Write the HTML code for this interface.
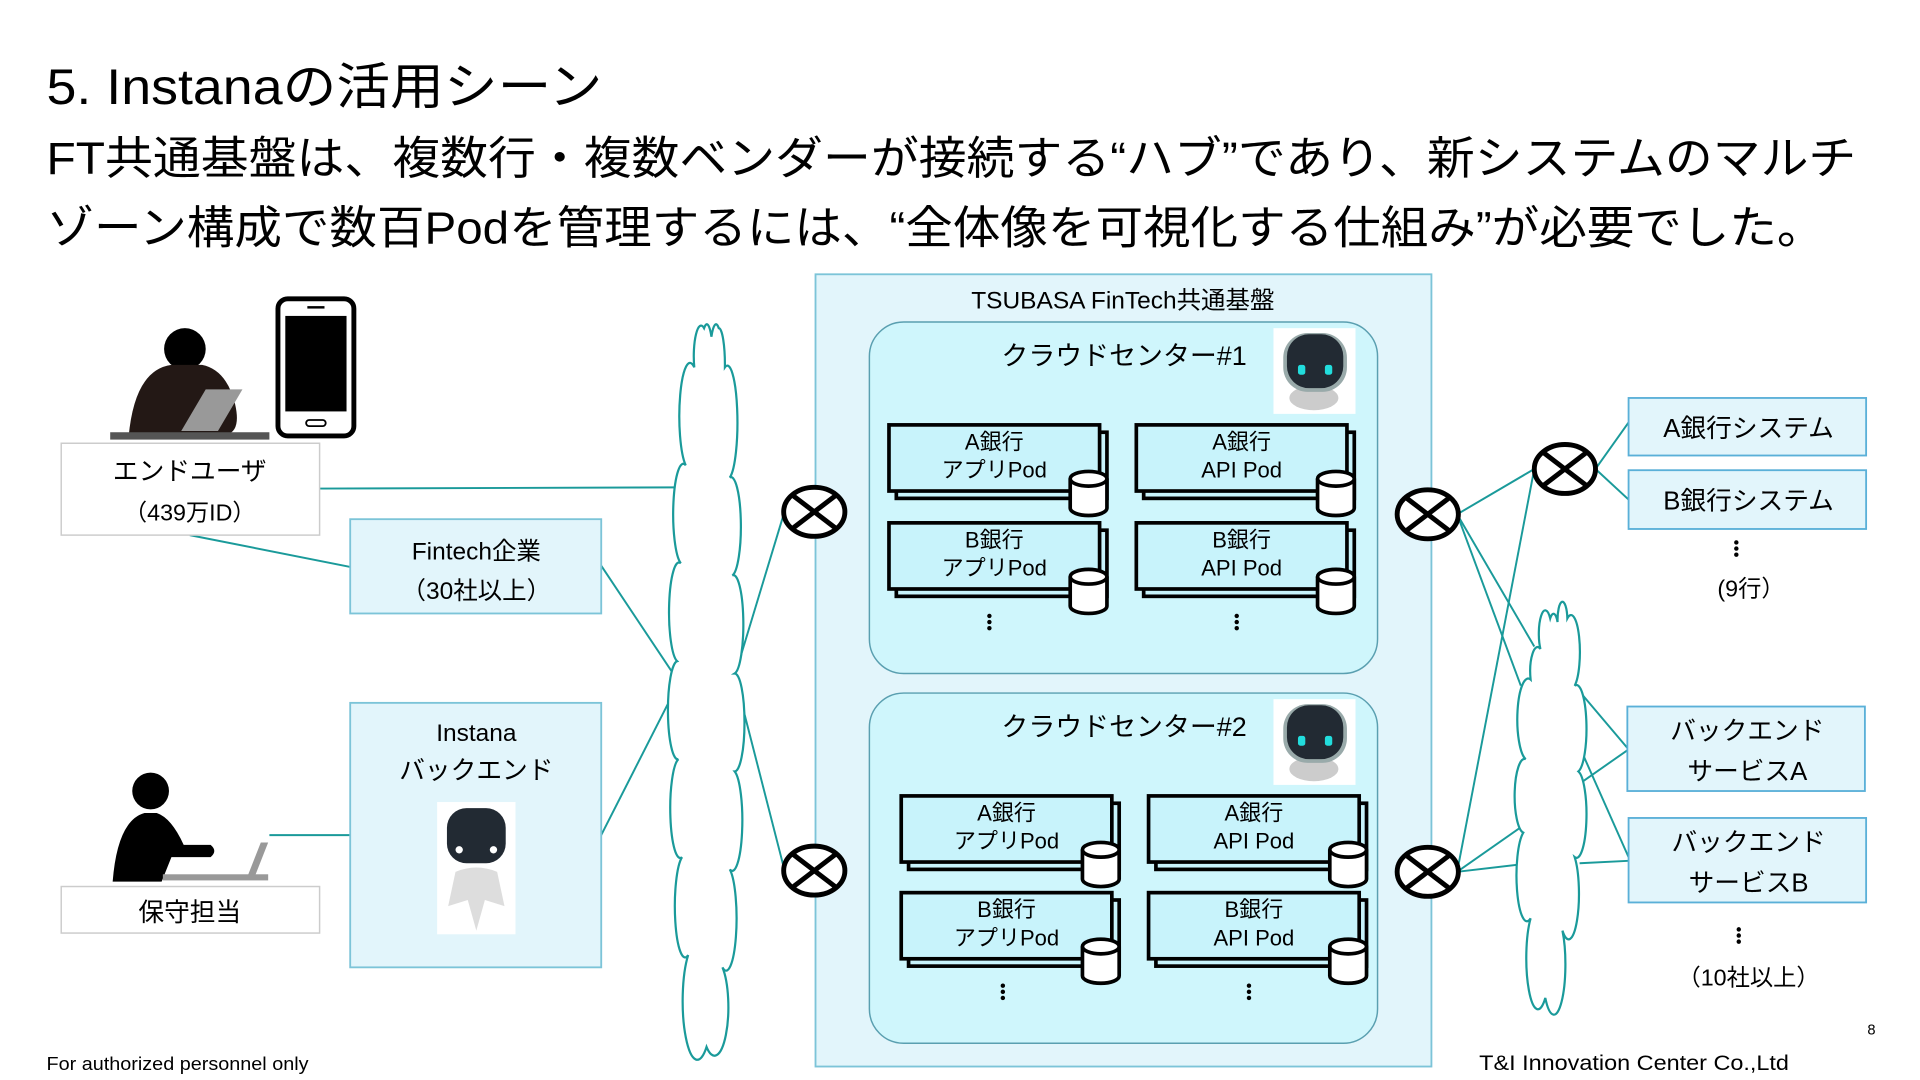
<!DOCTYPE html>
<html><head><meta charset="utf-8"><style>
html,body{margin:0;padding:0;background:#fff;}
svg{display:block;}
text{font-family:"Liberation Sans","Noto Sans CJK JP",sans-serif;fill:#000;}
</style></head><body>
<svg width="1920" height="1080" viewBox="0 0 1568 882" preserveAspectRatio="none" xmlns="http://www.w3.org/2000/svg">
<defs>
<g id="cyl">
<path d="M0 6 V30 A15 6 0 0 0 30 30 V6" fill="#fff" stroke="#000" stroke-width="3"/>
<ellipse cx="15" cy="6" rx="15" ry="6" fill="#fff" stroke="#000" stroke-width="3"/>
</g>
<g id="xc">
<ellipse cx="0" cy="0" rx="25" ry="20" fill="#fff" stroke="#000" stroke-width="4"/>
<line x1="-17" y1="-13" x2="17" y2="13" stroke="#000" stroke-width="4"/>
<line x1="-17" y1="13" x2="17" y2="-13" stroke="#000" stroke-width="4"/>
</g>
<g id="bot">
<rect x="0" y="0" width="67" height="70" fill="#fff"/>
<ellipse cx="33" cy="57" rx="20" ry="10" fill="#ccc"/>
<rect x="8" y="4" width="52" height="48" rx="20" fill="#9aa"/>
<rect x="11" y="5" width="46" height="44" rx="18" fill="#222a33"/>
<rect x="20" y="30" width="6" height="8" rx="2" fill="#2dd"/>
<rect x="42" y="30" width="6" height="8" rx="2" fill="#2dd"/>
</g>
</defs>

<text x="38" y="85" font-size="41" textLength="454" lengthAdjust="spacingAndGlyphs">5. Instanaの活用シーン</text>
<text x="38" y="142" font-size="37" textLength="1478" lengthAdjust="spacingAndGlyphs">FT共通基盤は、複数行・複数ベンダーが接続する“ハブ”であり、新システムのマルチ</text>
<text x="38" y="199" font-size="37" textLength="1452" lengthAdjust="spacingAndGlyphs">ゾーン構成で数百Podを管理するには、“全体像を可視化する仕組み”が必要でした。</text>

<rect x="666" y="224" width="503" height="647" fill="#e2f5fb" stroke="#7cc4d8" stroke-width="1.5"/>
<text x="917" y="252" font-size="20" text-anchor="middle">TSUBASA FinTech共通基盤</text>
<rect x="710" y="263" width="415" height="287" rx="28" fill="#cff6fc" stroke="#5a9fb0" stroke-width="1.2"/>
<rect x="710" y="566" width="415" height="286" rx="28" fill="#cff6fc" stroke="#5a9fb0" stroke-width="1.2"/>
<text x="918" y="298" font-size="22" text-anchor="middle">クラウドセンター#1</text>
<text x="918" y="601" font-size="22" text-anchor="middle">クラウドセンター#2</text>
<use href="#bot" x="1040" y="268"/>
<use href="#bot" x="1040" y="571"/>

<g stroke="#000" stroke-width="3" fill="#c8f3fb">
<rect x="732" y="353" width="172" height="54"/><rect x="726" y="347" width="172" height="54"/>
<rect x="934" y="353" width="172" height="54"/><rect x="928" y="347" width="172" height="54"/>
<rect x="732" y="433" width="172" height="54"/><rect x="726" y="427" width="172" height="54"/>
<rect x="934" y="433" width="172" height="54"/><rect x="928" y="427" width="172" height="54"/>
<rect x="742" y="656" width="172" height="54"/><rect x="736" y="650" width="172" height="54"/>
<rect x="944" y="656" width="172" height="54"/><rect x="938" y="650" width="172" height="54"/>
<rect x="742" y="735" width="172" height="54"/><rect x="736" y="729" width="172" height="54"/>
<rect x="944" y="735" width="172" height="54"/><rect x="938" y="729" width="172" height="54"/>
</g>
<use href="#cyl" x="874" y="385"/><use href="#cyl" x="1076" y="385"/>
<use href="#cyl" x="874" y="465"/><use href="#cyl" x="1076" y="465"/>
<use href="#cyl" x="884" y="688"/><use href="#cyl" x="1086" y="688"/>
<use href="#cyl" x="884" y="767"/><use href="#cyl" x="1086" y="767"/>
<g font-size="18" text-anchor="middle">
<text x="812" y="367">A銀行</text><text x="812" y="390">アプリPod</text>
<text x="1014" y="367">A銀行</text><text x="1014" y="390">API Pod</text>
<text x="812" y="447">B銀行</text><text x="812" y="470">アプリPod</text>
<text x="1014" y="447">B銀行</text><text x="1014" y="470">API Pod</text>
<text x="822" y="670">A銀行</text><text x="822" y="693">アプリPod</text>
<text x="1024" y="670">A銀行</text><text x="1024" y="693">API Pod</text>
<text x="822" y="749">B銀行</text><text x="822" y="772">アプリPod</text>
<text x="1024" y="749">B銀行</text><text x="1024" y="772">API Pod</text>
</g>
<g fill="#000">
<circle cx="808" cy="503" r="1.8"/><circle cx="808" cy="508" r="1.8"/><circle cx="808" cy="513" r="1.8"/>
<circle cx="1010" cy="503" r="1.8"/><circle cx="1010" cy="508" r="1.8"/><circle cx="1010" cy="513" r="1.8"/>
<circle cx="819" cy="805" r="1.8"/><circle cx="819" cy="810" r="1.8"/><circle cx="819" cy="815" r="1.8"/>
<circle cx="1020" cy="805" r="1.8"/><circle cx="1020" cy="810" r="1.8"/><circle cx="1020" cy="815" r="1.8"/>
<circle cx="1418" cy="443" r="1.8"/><circle cx="1418" cy="448" r="1.8"/><circle cx="1418" cy="453" r="1.8"/>
<circle cx="1420" cy="759" r="1.8"/><circle cx="1420" cy="764" r="1.8"/><circle cx="1420" cy="769" r="1.8"/>
</g>

<g stroke="#1a9a9a" stroke-width="1.6" fill="none">
<line x1="261" y1="399" x2="553" y2="398"/>
<line x1="155" y1="437" x2="286" y2="463"/>
<line x1="491" y1="462" x2="553" y2="555"/>
<line x1="491" y1="682" x2="553" y2="560"/>
<line x1="220" y1="682" x2="286" y2="682"/>
<line x1="600" y1="552" x2="640" y2="420"/>
<line x1="600" y1="552" x2="640" y2="708"/>
<line x1="1190" y1="420" x2="1253" y2="383"/>
<line x1="1190" y1="420" x2="1253" y2="528"/>
<line x1="1190" y1="420" x2="1242" y2="560"/>
<line x1="1190" y1="712" x2="1253" y2="383"/>
<line x1="1190" y1="712" x2="1250" y2="670"/>
<line x1="1190" y1="712" x2="1250" y2="705"/>
<line x1="1303" y1="383" x2="1330" y2="345"/>
<line x1="1303" y1="383" x2="1330" y2="408"/>
<line x1="1286" y1="560" x2="1330" y2="612"/>
<line x1="1290" y1="640" x2="1330" y2="612"/>
<line x1="1290" y1="610" x2="1330" y2="700"/>
<line x1="1290" y1="705" x2="1330" y2="703"/>
</g>

<path d="M575 268 A6 25 0 0 0 567 300 A8 40 0 0 0 560 380 A8 40 0 0 0 556 460 A8 40 0 0 0 553 540 A8 40 0 0 0 554 620 A8 40 0 0 0 557 700 A8 40 0 0 0 562 780 A10 40 0 0 0 577 855 A10 35 0 0 0 590 790 A8 40 0 0 0 596 710 A8 40 0 0 0 600 630 A8 40 0 0 0 600 550 A8 40 0 0 0 598 470 A8 40 0 0 0 596 390 A8 45 0 0 0 592 300 A5 30 0 0 0 587 268 A5 30 0 0 0 581 275 A5 30 0 0 0 575 268 Z" fill="#fff" stroke="#1a9a9a" stroke-width="1.8"/>
<path d="M1266 505 A5 18 0 0 0 1258 530 A6 20 0 0 0 1250 555 A8 30 0 0 0 1246 620 A8 30 0 0 0 1244 680 A8 35 0 0 0 1250 750 A8 35 0 0 0 1262 815 A8 35 0 0 0 1276 760 A8 35 0 0 0 1286 700 A8 35 0 0 0 1289 630 A8 35 0 0 0 1286 560 A6 25 0 0 0 1280 505 A4 15 0 0 0 1272 508 A4 15 0 0 0 1266 505 Z" fill="#fff" stroke="#1a9a9a" stroke-width="1.8"/>

<use href="#xc" x="665" y="418"/>
<use href="#xc" x="665" y="711"/>
<use href="#xc" x="1166" y="420"/>
<use href="#xc" x="1166" y="712"/>
<use href="#xc" x="1278" y="383"/>

<circle cx="151" cy="285" r="17" fill="#000"/>
<path d="M105 357 Q110 302 140 298 L165 298 Q185 302 192 330 Q197 352 185 355 L120 357 Z" fill="#231815"/>
<polygon points="168,318 198,318 178,352 148,352" fill="#999"/>
<rect x="90" y="353" width="130" height="6" fill="#555"/>
<rect x="227" y="244" width="62" height="112" rx="8" fill="#fff" stroke="#000" stroke-width="4"/>
<rect x="233" y="258" width="50" height="78" fill="#000"/>
<rect x="251" y="250" width="14" height="2" fill="#000"/>
<rect x="250" y="343" width="16" height="5" rx="2.5" fill="none" stroke="#000" stroke-width="1.5"/>

<circle cx="123" cy="646" r="15" fill="#000"/>
<path d="M92 720 Q96 670 118 664 L128 664 Q140 668 150 690 L172 690 Q178 695 172 700 L140 700 L132 720 Z" fill="#000"/>
<polygon points="213,688 219,688 208,716 202,716" fill="#999"/>
<rect x="133" y="714" width="86" height="5" fill="#999"/>

<rect x="50" y="362" width="211" height="75" fill="#fff" stroke="#ccc" stroke-width="1.2"/>
<text x="155" y="392" font-size="21" text-anchor="middle">エンドユーザ</text>
<text x="155" y="425" font-size="19" text-anchor="middle">（439万ID）</text>
<rect x="50" y="724" width="211" height="38" fill="#fff" stroke="#ccc" stroke-width="1.2"/>
<text x="155" y="752" font-size="21" text-anchor="middle">保守担当</text>

<rect x="286" y="424" width="205" height="77" fill="#e2f5fb" stroke="#7cc4d8" stroke-width="1.5"/>
<text x="389" y="457" font-size="20" text-anchor="middle">Fintech企業</text>
<text x="389" y="489" font-size="20" text-anchor="middle">（30社以上）</text>
<rect x="286" y="574" width="205" height="216" fill="#e2f5fb" stroke="#7cc4d8" stroke-width="1.5"/>
<text x="389" y="605" font-size="20" text-anchor="middle">Instana</text>
<text x="389" y="636" font-size="21" text-anchor="middle">バックエンド</text>
<rect x="357" y="655" width="64" height="108" fill="#fff"/>
<rect x="365" y="660" width="48" height="45" rx="16" fill="#222a33"/>
<circle cx="375" cy="694" r="3" fill="#fff"/><circle cx="403" cy="694" r="3" fill="#fff"/>
<path d="M372 712 Q389 705 406 712 L412 740 L396 735 L389 760 L382 735 L366 740 Z" fill="#ddd"/>

<g fill="#e2f5fb" stroke="#5ab0d8" stroke-width="1.5">
<rect x="1330" y="325" width="194" height="47"/>
<rect x="1330" y="384" width="194" height="48"/>
<rect x="1329" y="577" width="194" height="69"/>
<rect x="1330" y="668" width="194" height="69"/>
</g>
<g font-size="21" text-anchor="middle">
<text x="1428" y="357">A銀行システム</text>
<text x="1428" y="416">B銀行システム</text>
<text x="1430" y="487" font-size="19">(9行）</text>
<text x="1427" y="604">バックエンド</text>
<text x="1427" y="637">サービスA</text>
<text x="1428" y="695">バックエンド</text>
<text x="1428" y="728">サービスB</text>
<text x="1428" y="805" font-size="19">（10社以上）</text>
</g>

<text x="38" y="874" font-size="15" fill="#333" textLength="214" lengthAdjust="spacingAndGlyphs">For authorized personnel only</text>
<text x="1208" y="874" font-size="17" textLength="253" lengthAdjust="spacingAndGlyphs">T&amp;I Innovation Center Co.,Ltd</text>
<text x="1525" y="845" font-size="12">8</text>
</svg>
</body></html>
